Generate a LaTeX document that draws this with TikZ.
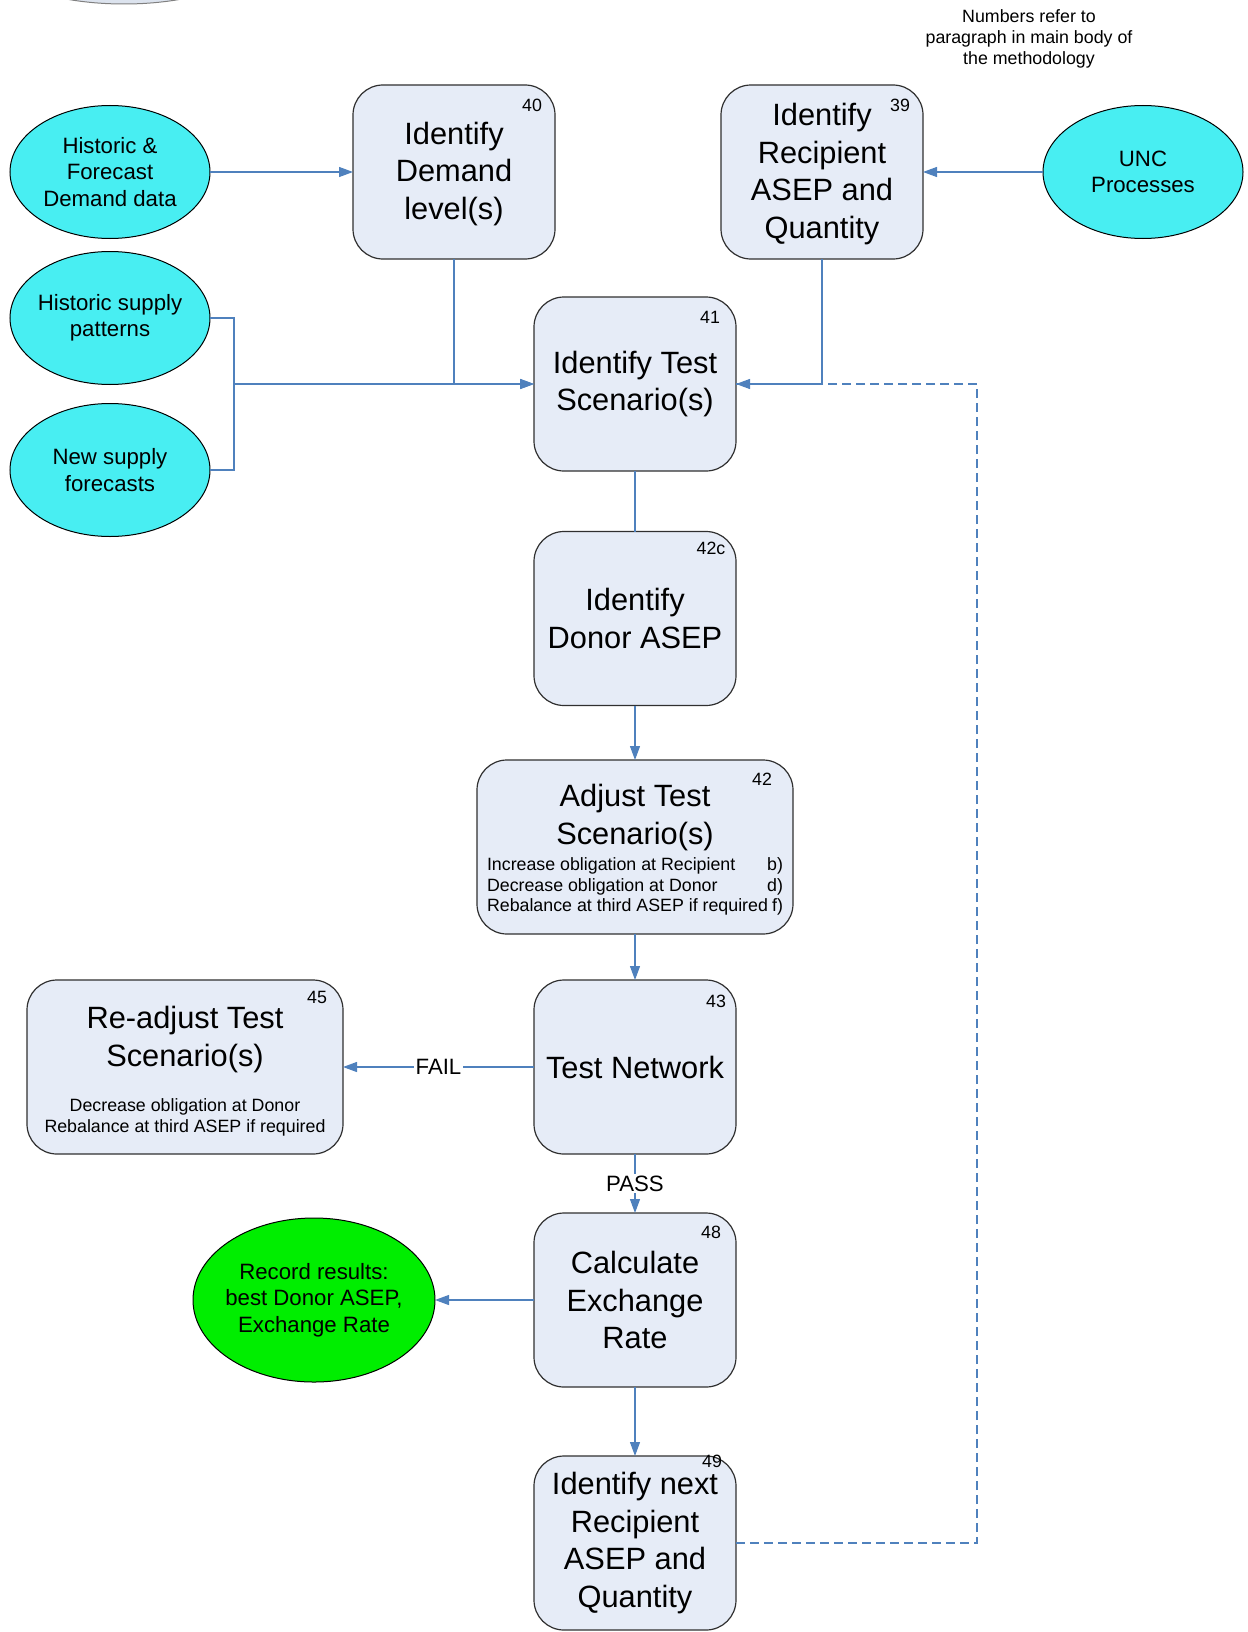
\documentclass[tikz,border=0pt]{standalone}
\usepackage{fontspec}
\setmainfont{Liberation Sans}
\usetikzlibrary{shapes.geometric,arrows.meta}
\definecolor{boxfill}{HTML}{E6ECF7}
\definecolor{srcfill}{HTML}{48EEF2}
\definecolor{okfill}{HTML}{00EE00}
\definecolor{linecol}{HTML}{4F81BD}
\definecolor{boxline}{HTML}{303030}
\definecolor{topfill}{HTML}{DCE3EE}
\newcommand{\fbig}{\fontsize{15.4pt}{18.7pt}\selectfont}
\newcommand{\fmid}{\fontsize{11.1pt}{13.2pt}\selectfont}
\newcommand{\fsml}{\fontsize{8.9pt}{10.4pt}\selectfont}
\begin{document}
\begin{tikzpicture}[x=0.5pt,y=-0.5pt,
  stepbox/.style={draw=boxline, line width=0.6pt, fill=boxfill, rounded corners=15pt,
    minimum width=101pt, minimum height=87pt, inner sep=0pt, outer sep=0pt,
    align=center, font=\fbig},
  wide/.style={minimum width=158pt},
  src/.style={ellipse, draw=black, line width=0.5pt, fill=srcfill,
    minimum width=100pt, minimum height=66.5pt, inner sep=-4pt, outer sep=0pt,
    align=center, font=\fmid},
  conn/.style={draw=linecol, line width=0.6pt},
  arr/.style={conn, -{Triangle[length=7pt,width=5pt]}},
  dashconn/.style={conn, dash pattern=on 4.5pt off 2.5pt},
  num/.style={font=\fsml, inner sep=0pt},
  lbl/.style={font=\fmid, fill=white, inner sep=1pt}]
\useasboundingbox (0,0) rectangle (1247,1632);
% partial shape at the top edge
\begin{scope}
  \clip (0,0) rectangle (1247,1632);
  \draw[draw=gray, line width=0.5pt, fill=topfill] (124,-56) ellipse [x radius=145, y radius=60];
\end{scope}

% note
\node[font=\fsml, align=center, inner sep=0pt] (note) at (1029,39)
  {Numbers refer to\\paragraph in main body of\\the methodology};

% source ellipses
\node[src] (e1) at (110,172) {Historic \&\\Forecast\\Demand data};
\node[src] (e2) at (110,318) {Historic supply\\patterns};
\node[src] (e3) at (110,470) {New supply\\forecasts};
\node[src] (e4) at (1143,172) {UNC\\Processes};
\node[src, fill=okfill, minimum width=121pt, minimum height=82pt] (rec) at (314,1300)
  {Record results:\\best Donor ASEP,\\Exchange Rate};

% process boxes
\node[stepbox] (b40) at (454,172) {\vbox{\hsize=100pt\parindent=0pt\centering
  \vskip2pt Identify\\Demand\\level(s)\par}};
\node[stepbox] (b39) at (822,172) {\vbox{\hsize=100pt\parindent=0pt\centering
  \vskip2pt Identify\\Recipient\\ASEP and\\Quantity\par}};
\node[stepbox] (b41) at (635,384) {Identify Test\\Scenario(s)};
\node[stepbox] (b42c) at (635,618.5) {Identify\\Donor ASEP};
\node[stepbox, wide] (b42) at (635,847) {\vbox{\hsize=148pt\parindent=0pt\centering
  \vskip3pt\fbig Adjust Test\\Scenario(s)\par\vskip2.6pt\fsml
  \hbox to 148pt{Increase obligation at Recipient\hfill b)}%
  \hbox to 148pt{Decrease obligation at Donor\hfill d)}%
  \hbox to 148pt{Rebalance at third ASEP if required\hfill f)}}};
\node[stepbox] (b43) at (635,1067) {Test Network};
\node[stepbox, wide] (b45) at (185,1067) {\vbox{\hsize=148pt\parindent=0pt\centering
  \vskip4.5pt\fbig Re-adjust Test\\Scenario(s)\par\vskip12pt
  \fontsize{8.9pt}{10.7pt}\selectfont
  Decrease obligation at Donor\\Rebalance at third ASEP if required\par}};
\node[stepbox] (b48) at (635,1300) {Calculate\\Exchange\\Rate};
\node[stepbox] (b49) at (635,1543) {Identify next\\Recipient\\ASEP and\\Quantity};

% paragraph numbers
\node[num] (n40) at (532,105) {40};
\node[num] (n39) at (900,105) {39};
\node[num] (n41) at (710,317) {41};
\node[num] (n42c) at (711,548) {42c};
\node[num] (n42) at (762,779) {42};
\node[num] (n43) at (716,1001) {43};
\node[num] (n45) at (317,997) {45};
\node[num] (n48) at (711,1232) {48};
\node[num] (n49) at (712,1461) {49};

% junction points
\coordinate (br) at (234,384);
\coordinate (dcorner) at (977,384);

% connectors
\draw[arr] (e1.east) -- (b40.west);
\draw[arr] (e4.west) -- (b39.east);
\draw[conn] (e2.east) -| (br) |- (e3.east);
\draw[arr] (br) -- (b41.west);
\draw[arr] (b40.south) |- (b41.west);
\draw[arr] (b39.south) |- (b41.east);
\draw[dashconn] (b49.east) -| (dcorner) -- (b41.east);
\draw[conn] (b41.south) -- (b42c.north);
\draw[arr] (b42c.south) -- (b42.north);
\draw[arr] (b42.south) -- (b43.north);
\draw[arr] (b43.west) -- node[lbl] (fail) {FAIL} (b45.east);
\draw[arr] (b43.south) -- node[lbl] (pass) {PASS} (b48.north);
\draw[arr] (b48.west) -- (rec.east);
\draw[arr] (b48.south) -- (b49.north);
\end{tikzpicture}
\end{document}
